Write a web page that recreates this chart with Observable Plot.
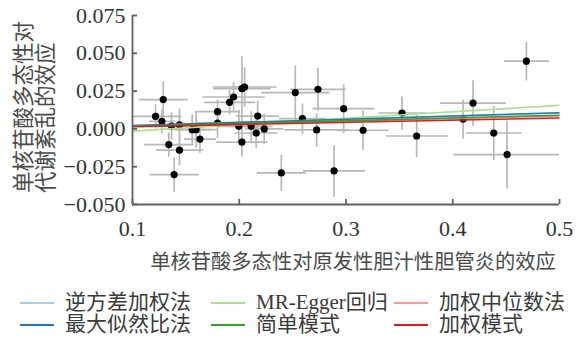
<!DOCTYPE html>
<html><head><meta charset="utf-8">
<script src="https://cdn.jsdelivr.net/npm/d3@7"></script>
<script src="https://cdn.jsdelivr.net/npm/@observablehq/plot@0.6"></script>
<style>
body{margin:0;background:#fff;}
#chart{position:relative;width:584px;height:342px;overflow:hidden;background:#fff;}
.lg{position:absolute;display:flex;align-items:center;font-family:"Liberation Serif","Noto Sans CJK SC",serif;font-size:21px;color:#3a3a3a;white-space:nowrap;line-height:21px;height:21px;}
.lg .sw{display:inline-block;width:34px;height:2px;margin-right:11px;}
</style></head><body><div id="chart"></div>
<script>
const snpX = [0.1216,0.1288,0.1275,0.1366,0.1440,0.1340,0.1440,0.1390,0.1559,0.1596,0.1632,0.1797,0.1797,0.1909,0.1947,0.2025,0.2050,0.2173,0.1996,0.2112,0.2234,0.2159,0.2025,0.2394,0.2525,0.2737,0.2592,0.2725,0.2888,0.2978,0.3160,0.3525,0.3662,0.4097,0.4190,0.4384,0.4509,0.4690];
const snpY = [0.0083,0.0194,0.0050,0.0019,0.0026,-0.0104,-0.0141,-0.0302,-0.0005,-0.0005,-0.0067,0.0114,0.0039,0.0176,0.0211,0.0266,0.0277,0.0085,0.0017,0.0017,0.0000,-0.0027,-0.0087,-0.0291,0.0240,0.0262,0.0068,-0.0007,-0.0278,0.0134,-0.0009,0.0105,-0.0047,0.0065,0.0171,-0.0027,-0.0170,0.0448];
const seX = [0.024,0.023,0.012,0.015,0.012,0.023,0.022,0.023,0.016,0.020,0.015,0.021,0.020,0.024,0.029,0.027,0.030,0.020,0.022,0.020,0.018,0.020,0.024,0.023,0.032,0.026,0.022,0.030,0.029,0.029,0.024,0.022,0.029,0.015,0.031,0.026,0.050,0.021];
const seY = [0.008,0.012,0.008,0.009,0.011,0.008,0.010,0.0115,0.010,0.012,0.009,0.008,0.010,0.008,0.010,0.0218,0.013,0.010,0.011,0.010,0.010,0.010,0.0095,0.012,0.018,0.014,0.010,0.011,0.017,0.016,0.013,0.011,0.014,0.013,0.015,0.018,0.0225,0.0127];

const methods = ["逆方差加权法","MR-Egger回归","加权中位数法","最大似然比法","简单模式","加权模式"];
const intercepts = [0, -0.0057, 0, 0, 0, 0];
const slopes = [0.0210, 0.0425, 0.0172, 0.0214, 0.0180, 0.0145];
const methodColors = ["#a6cee3","#b2df8a","#fb9a99","#1f78b4","#33a02c","#e31a1c"];

const xDomain = [0.1, 0.5];
const yDomain = [-0.05, 0.075];
const xTicks = [0.1, 0.2, 0.3, 0.4, 0.5];
const yTicks = [-0.05, -0.025, 0, 0.025, 0.05, 0.075];
const xTitle = "单核苷酸多态性对原发性胆汁性胆管炎的效应";
const yTitle = ["单核苷酸多态性对", "代谢紊乱的效应"];

const pts = snpX.map((x, i) => ({x, y: snpY[i], sx: seX[i], sy: seY[i]}));
const fits = methods.map((m, i) => ({
  m, x1: xDomain[0], x2: xDomain[1],
  y1: intercepts[i] + slopes[i] * xDomain[0],
  y2: intercepts[i] + slopes[i] * xDomain[1]
}));

const serif = "'Liberation Serif', 'Noto Sans CJK SC', serif";
const cjk = "'Noto Sans CJK SC', sans-serif";
const axisCol = "#606060";

const plot = Plot.plot({
  width: 584, height: 280,
  marginLeft: 132, marginRight: 25, marginTop: 15, marginBottom: 76,
  x: {domain: xDomain},
  y: {domain: yDomain},
  color: {domain: methods, range: methodColors},
  style: {fontFamily: serif, background: "transparent", color: "#333"},
  marks: [
    Plot.link(pts, {x1: d => d.x - d.sx, x2: d => d.x + d.sx, y1: "y", y2: "y", stroke: "#b8b8b8", strokeWidth: 1.7, clip: true}),
    Plot.link(pts, {x1: "x", x2: "x", y1: d => d.y - d.sy, y2: d => d.y + d.sy, stroke: "#b8b8b8", strokeWidth: 1.7, clip: true}),
    Plot.dot(pts, {x: "x", y: "y", r: 3.6, fill: "black", stroke: "none"}),
    Plot.link(fits, {x1: "x1", x2: "x2", y1: "y1", y2: "y2", stroke: "m", strokeWidth: 1.6}),
    Plot.ruleX([xDomain[0]], {stroke: axisCol, strokeWidth: 1.8}),
    Plot.ruleY([yDomain[0]], {stroke: axisCol, strokeWidth: 1.8}),
    Plot.axisY(yTicks, {anchor: "left", tickSize: -5, tickPadding: 12, tickFormat: d3.format(".3f"), fontSize: 22, fontFamily: serif, fill: "#333", stroke: axisCol, strokeWidth: 1.8, label: null}),
    Plot.axisX(xTicks, {anchor: "bottom", tickSize: -5, tickPadding: 21, tickFormat: d3.format(".1f"), fontSize: 22, fontFamily: serif, fill: "#333", stroke: axisCol, strokeWidth: 1.8, label: null}),
    Plot.text([xTitle], {frameAnchor: "bottom", dy: 58, dx: 7, lineAnchor: "middle", fontSize: 20.3, fontFamily: cjk, fill: "#4a4a4a"}),
    Plot.text([yTitle[0]], {frameAnchor: "left", rotate: -90, textAnchor: "start", dx: -108, dy: 83, lineAnchor: "middle", fontSize: 21.5, fontFamily: cjk, fill: "#4a4a4a"}),
    Plot.text([yTitle[1]], {frameAnchor: "left", rotate: -90, textAnchor: "start", dx: -86, dy: 83, lineAnchor: "middle", fontSize: 21.5, fontFamily: cjk, fill: "#4a4a4a"})
  ]
});

const chart = document.getElementById("chart");
chart.appendChild(plot);

// legend: 3 columns x 2 rows (column-major order)
const colLeft = [20, 211, 394];
const rowTop = [292, 314];
const order = [[0, 3], [1, 4], [2, 5]];
order.forEach((col, c) => col.forEach((mi, r) => {
  const d = document.createElement("div");
  d.className = "lg";
  d.style.left = colLeft[c] + "px";
  d.style.top = rowTop[r] + "px";
  const sw = document.createElement("span");
  sw.className = "sw";
  sw.style.background = methodColors[mi];
  const t = document.createElement("span");
  t.textContent = methods[mi];
  d.appendChild(sw); d.appendChild(t);
  chart.appendChild(d);
}));
</script>
</body></html>
